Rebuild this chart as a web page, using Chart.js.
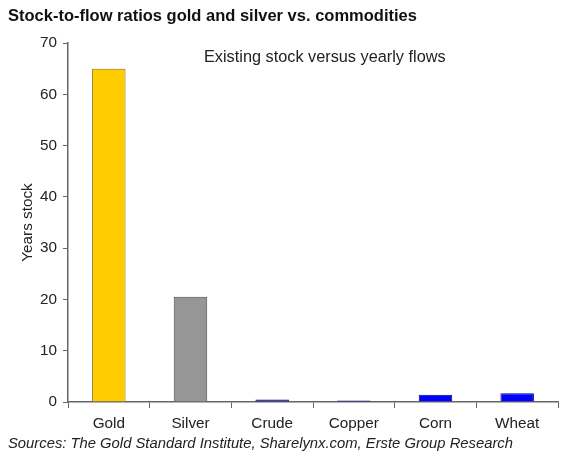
<!DOCTYPE html>
<html>
<head>
<meta charset="utf-8">
<script src="https://cdn.jsdelivr.net/npm/chart.js@4/dist/chart.umd.min.js"></script>
<style>
  html, body { margin: 0; padding: 0; background: #fff; }
  #wrap { position: relative; width: 583px; height: 470px; overflow: hidden; }
  #title { position: absolute; left: 8px; top: 6px; font: bold 16.5px "Liberation Sans", Arial, sans-serif; color: #111; }
  #note { position: absolute; left: 204px; top: 47px; font: 16.3px "Liberation Sans", Arial, sans-serif; color: #222; }
  #source { position: absolute; left: 8px; top: 435px; font: italic 14.8px "Liberation Sans", Arial, sans-serif; color: #222; }
  canvas { position: absolute; left: 0; top: 0; }
</style>
</head>
<body>
<div id="wrap">
  <canvas id="stockFlow" width="583" height="470"></canvas>
  <div id="title">Stock-to-flow ratios gold and silver vs. commodities</div>
  <div id="note">Existing stock versus yearly flows</div>
  <div id="source">Sources: The Gold Standard Institute, Sharelynx.com, Erste Group Research</div>
</div>
<script>
const categories = ['Gold', 'Silver', 'Crude', 'Copper', 'Corn', 'Wheat'];
const yearsStock = [65, 20.5, 0.5, 0.3, 1.4, 1.7];
const yTicks = [0, 10, 20, 30, 40, 50, 60, 70];

const fillColors = ['#ffcc00', '#969696', '#000090', '#000090', '#0000ff', '#0000ff'];
const edgeColors = ['#8a7400', '#4a4a4a', '#000080', '#000080', '#000080', '#000080'];

const font = { family: '"Liberation Sans", Arial, sans-serif', size: 15.3 };

const ctx = document.getElementById('stockFlow').getContext('2d');
new Chart(ctx, {
    type: 'bar',
    data: {
        labels: categories,
        datasets: [{
            data: yearsStock,
            backgroundColor: fillColors,
            borderColor: edgeColors,
            borderWidth: 1,
            categoryPercentage: 1,
            barPercentage: 0.41
        }]
    },
    options: {
        responsive: false,
        animation: false,
        layout: { padding: { top: 43, right: 25, bottom: 0, left: 19 } },
        plugins: { legend: { display: false }, tooltip: { enabled: false } },
        scales: {
            x: {
                grid: { display: true, drawOnChartArea: false, offset: true, tickLength: 6, color: '#666' },
                border: { color: '#666', width: 1.5 },
                ticks: { font: font, color: '#222', padding: 7 },
                afterFit: s => { s.height = 68; }
            },
            y: {
                min: 0,
                max: 70,
                afterBuildTicks: s => { s.ticks = yTicks.map(v => ({ value: v })); },
                grid: { display: true, drawOnChartArea: false, tickLength: 5, color: '#666' },
                border: { color: '#666', width: 1.5 },
                ticks: { font: font, color: '#222', padding: 6 },
                title: { display: true, text: 'Years stock', font: font, color: '#222', padding: { top: 0, bottom: 6 } },
                afterFit: s => { s.width = 49; }
            }
        }
    }
});
</script>
</body>
</html>
